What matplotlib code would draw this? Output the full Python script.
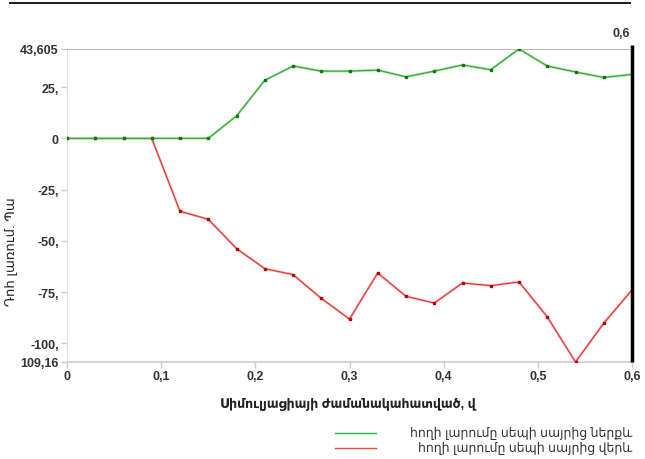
import matplotlib
matplotlib.use("Agg")
import matplotlib.pyplot as plt
from matplotlib.lines import Line2D

plt.rcParams['font.family'] = ['Liberation Sans', 'Noto Sans', 'DejaVu Sans']

# time steps, s
time = [0.00, 0.03, 0.06, 0.09, 0.12, 0.15, 0.18, 0.21, 0.24, 0.27, 0.30,
        0.33, 0.36, 0.39, 0.42, 0.45, 0.48, 0.51, 0.54, 0.57, 0.60]
# stress below the wedge tip
below = [0, 0, 0, 0, 0, 0, 10.9, 28.3, 35.3, 32.8, 32.8,
         33.3, 30.0, 32.8, 35.8, 33.5, 43.605, 35.3, 32.4, 29.7, 31.2]
# stress above the wedge tip
above = [0, 0, 0, 0, -35.6, -39.5, -53.8, -63.6, -66.5, -78.1, -88.2,
         -65.7, -77.1, -80.4, -70.6, -71.9, -70.1, -87.1, -109.16, -90.2, -74.0]

y_ticks = [43.605, 25, 0, -25, -50, -75, -100, -109.16]
y_labels = ['43,605', '25,', '0', '-25,', '-50,', '-75,', '-100,', '109,16']
x_ticks = [0, 0.1, 0.2, 0.3, 0.4, 0.5, 0.6]
x_labels = ['0', '0,1', '0,2', '0,3', '0,4', '0,5', '0,6']

label_below = 'հողի լարումը սեպի սայրից ներքև'
label_above = 'հողի լարումը սեպի սայրից վերև'

fig = plt.figure(figsize=(6.45, 4.6), dpi=100)
ax = fig.add_axes([67 / 645, 1 - 363 / 460, (632 - 67) / 645, (363 - 50) / 460])

# red first, green on top (they overlap at zero)
ax.plot(time, above, color='#f4b4b4', lw=1.8, zorder=2)
ax.plot(time, above, color='#e02828', lw=0.7, marker='s', ms=1.6,
        mfc='#b80000', mec='#b80000', zorder=3)
ax.plot(time, below, color='#a8dfa8', lw=1.8, zorder=4)
ax.plot(time, below, color='#28a028', lw=0.7, marker='s', ms=1.6,
        mfc='#067a06', mec='#067a06', zorder=5)

ax.set_xlim(0, 0.6)
ax.set_ylim(min(y_ticks), max(y_ticks))

ax.set_yticks(y_ticks)
ax.set_yticklabels(y_labels, fontweight='bold', fontsize=9, color='#333333')
ax.set_xticks(x_ticks)
ax.set_xticklabels(x_labels, fontweight='bold', fontsize=9, color='#333333')
ax.tick_params(axis='both', colors='#cccccc', length=4, width=1, pad=2,
               labelcolor='#333333')

ax.spines['right'].set_visible(False)
ax.spines['top'].set_color('#bbbbbb')
ax.spines['left'].set_color('#e4e4e4')
ax.spines['bottom'].set_color('#d4d4d4')
ax.spines['bottom'].set_linewidth(1.5)

# cursor line at the end of the simulation
ax.plot([0.6, 0.6], [min(y_ticks), max(y_ticks) + 2], color='black', lw=2.5,
        clip_on=False, zorder=6, solid_capstyle='butt')
fig.text(630 / 645, 1 - 34 / 460, '0,6', ha='right', va='center',
         fontweight='bold', fontsize=9, color='#333333')

# rule at the top
fig.add_artist(Line2D([10 / 645, 630 / 645], [1 - 4 / 460, 1 - 4 / 460],
                      color='#222222', lw=1.5))

fig.text(348 / 645, 1 - 405 / 460, 'Սիմուլյացիայի ժամանակահատված, վ',
         ha='center', va='center', fontweight='bold', fontsize=9, color='#222222')
fig.text(12 / 645, 1 - 252 / 460, 'Դոհ լառում. Պա', rotation=90,
         ha='center', va='center', fontsize=9.5, color='#222222')

# legend
for yy, col, txt in [(434, '#22bb44', label_below), (449, '#ee4444', label_above)]:
    fig.add_artist(Line2D([335 / 645, 376 / 645], [1 - yy / 460, 1 - yy / 460],
                          color=col, lw=1))
    fig.text(632 / 645, 1 - yy / 460, txt, ha='right', va='center',
             fontsize=9, color='#333333')

fig.savefig('out.png', dpi=100)
